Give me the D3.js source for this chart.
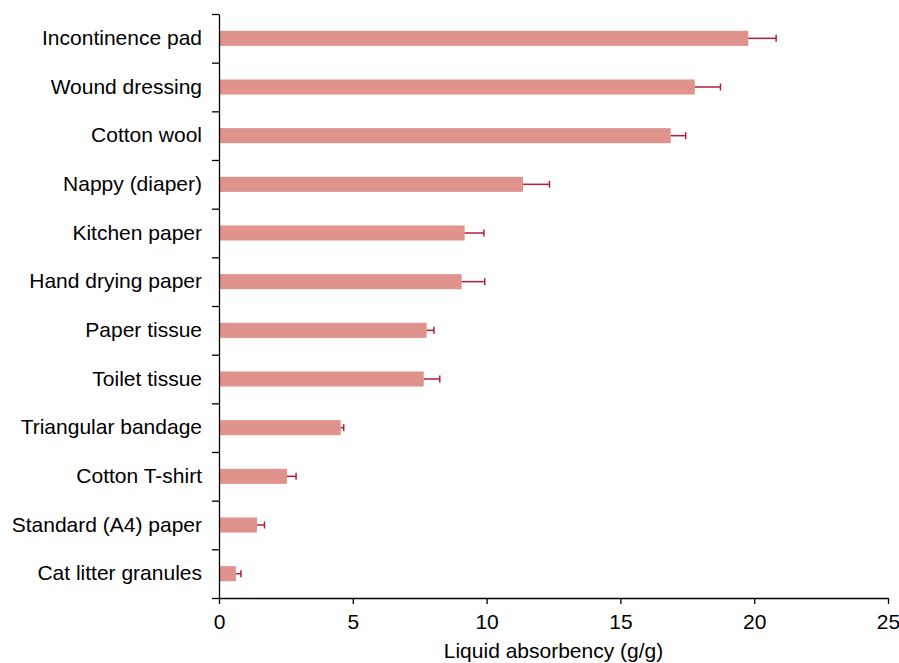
<!DOCTYPE html>
<html>
<head>
<meta charset="utf-8">
<script src="https://cdn.jsdelivr.net/npm/d3@7/dist/d3.min.js"></script>
<style>
  body { margin: 0; background: #fff; }
  svg { display: block; font-family: "Liberation Sans", Arial, sans-serif; }
</style>
</head>
<body>
<svg id="chart" width="899" height="663"></svg>
<script>
// materials, top to bottom
const materials = [
  'Incontinence pad', 'Wound dressing', 'Cotton wool', 'Nappy (diaper)',
  'Kitchen paper', 'Hand drying paper', 'Paper tissue', 'Toilet tissue',
  'Triangular bandage', 'Cotton T-shirt', 'Standard (A4) paper', 'Cat litter granules'
];
const absorbency = [19.78, 17.78, 16.88, 11.36, 9.18, 9.07, 7.76, 7.65, 4.55, 2.54, 1.42, 0.63];
const errUpper = [20.82, 18.74, 17.44, 12.35, 9.90, 9.93, 8.03, 8.25, 4.66, 2.88, 1.70, 0.82];
const xTicks = [0, 5, 10, 15, 20, 25];

const svg = d3.select('#chart');
const plotLeft = 219, plotRight = 888, plotTop = 14, plotBottom = 598;
const fontSize = 21;

const x = d3.scaleLinear().domain([0, 25]).range([plotLeft, plotRight]);
const y = d3.scaleBand().domain(materials).range([plotTop, plotBottom])
  .paddingInner(0.69).paddingOuter(0.345);
const yEdge = d3.scaleLinear().domain([0, materials.length]).range([plotTop, plotBottom]);

// bars
svg.append('g').selectAll('rect')
  .data(materials)
  .join('rect')
  .attr('x', x(0))
  .attr('y', d => y(d))
  .attr('width', (d, i) => x(absorbency[i]) - x(0))
  .attr('height', y.bandwidth())
  .attr('fill', '#e0938c');

// error bars
const errG = svg.append('g').attr('stroke', '#b01e35').attr('stroke-width', 1.5);
materials.forEach((m, i) => {
  const cy = y(m) + y.bandwidth() / 2;
  errG.append('line')
    .attr('x1', x(absorbency[i])).attr('x2', x(errUpper[i]))
    .attr('y1', cy).attr('y2', cy);
  errG.append('line')
    .attr('x1', x(errUpper[i])).attr('x2', x(errUpper[i]))
    .attr('y1', cy - 3.5).attr('y2', cy + 3.5);
});

// y axis: boundary ticks
const yAxis = svg.append('g')
  .attr('transform', `translate(${plotLeft},0)`)
  .call(d3.axisLeft(yEdge).tickValues(d3.range(materials.length + 1)).tickFormat('').tickSize(7).tickSizeOuter(0));
yAxis.selectAll('path, line').attr('stroke', '#000').attr('stroke-width', 1.3);

// category labels
const yLab = svg.append('g')
  .attr('transform', `translate(${plotLeft},0)`)
  .call(d3.axisLeft(y).tickSize(0).tickPadding(17));
yLab.select('.domain').remove();
yLab.selectAll('text').attr('font-size', fontSize).attr('fill', '#000')
  .attr('font-family', '"Liberation Sans", Arial, sans-serif');

// x axis
const xAxis = svg.append('g')
  .attr('transform', `translate(0,${plotBottom})`)
  .call(d3.axisBottom(x).tickValues(xTicks).tickSize(6).tickSizeOuter(0).tickPadding(10));
xAxis.selectAll('path, line').attr('stroke', '#000').attr('stroke-width', 1.3);
xAxis.selectAll('text').attr('font-size', fontSize).attr('fill', '#000')
  .attr('font-family', '"Liberation Sans", Arial, sans-serif');

svg.append('text')
  .attr('x', (plotLeft + plotRight) / 2)
  .attr('y', 658)
  .attr('text-anchor', 'middle')
  .attr('font-size', fontSize)
  .text('Liquid absorbency (g/g)');
</script>
</body>
</html>
